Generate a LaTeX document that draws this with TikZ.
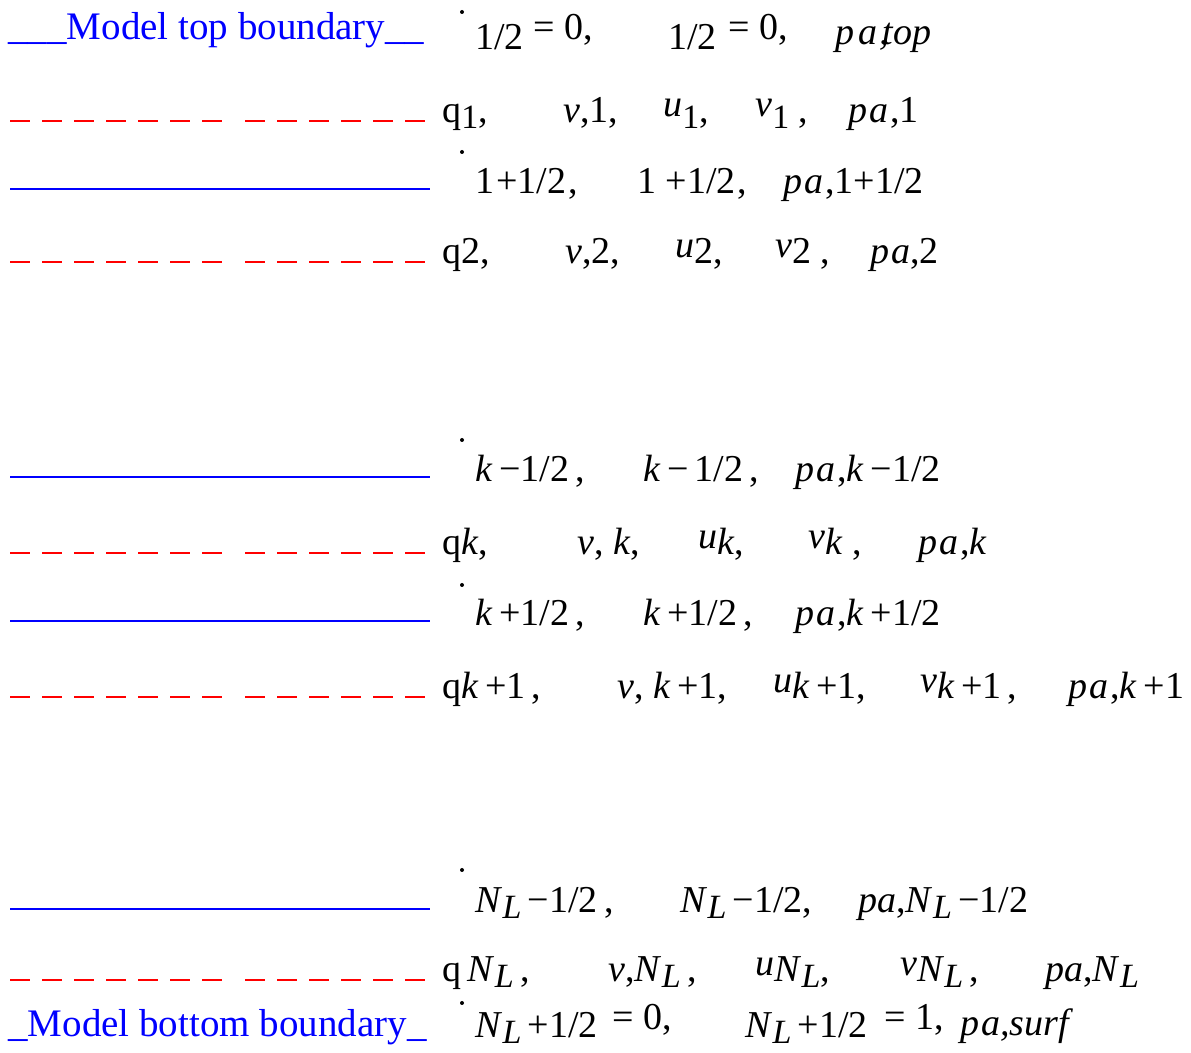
\documentclass[tikz,border=0pt]{standalone}
\usepackage{fontspec}
\setmainfont{Liberation Serif}
\usepackage{xcolor}
\usepackage{tikz}
\usetikzlibrary{positioning}
\definecolor{lvblue}{RGB}{0,0,255}
\definecolor{lvred}{RGB}{255,0,0}
\newcommand{\lo}[1]{\raisebox{-0.3ex}{\fontsize{17}{17}\selectfont #1}}
\newcommand{\up}[1]{\raisebox{0.35ex}{\textit{#1}}}
\newcommand{\nl}{\textit{N}\lo{\textit{L}}}
\newcommand{\pa}{\textit{p\kern1pt a}}

\begin{document}
\begin{tikzpicture}[x=0.5pt,y=-0.5pt,
    eqtext/.style={anchor=base west,inner sep=0pt,font=\fontsize{19}{21}\selectfont},
    bndtext/.style={anchor=base west,inner sep=0pt,text=lvblue,font=\fontsize{19.5}{22}\selectfont},
    halflev/.style={draw=lvblue,line width=1.3pt},
    fulllev/.style={draw=lvred,line width=1.3pt,dash pattern=on 10pt off 6pt},
    dotmark/.style={circle,fill=black,inner sep=0pt,minimum size=2pt}]
\useasboundingbox (0,0) rectangle (1191,1053);

% level lines
\foreach \y in {189,477,621,909}
    \draw[halflev] (10,\y) -- (430,\y);
\foreach \y in {121,262,553,697,980}{
    \draw[fulllev] (10,\y) -- (222,\y);
    \draw[fulllev] (245,\y) -- (426,\y);
}

% boundaries
\node[bndtext] (topbnd) at (8,40) {\_\_\_Model top boundary\_\_};
\node[bndtext] (botbnd) at (8,1037) {\_Model bottom boundary\_};

% dots of the half levels
\foreach \y [count=\i] in {12,152,440,585,870,1003}
    \node[dotmark] (dot\i) at (462,\y) {};

% top
\node[eqtext] (a1) at (475,50) {1/2};
\node[eqtext] (a2) at (533,40) {= 0,};
\node[eqtext] (a3) at (668,50) {1/2};
\node[eqtext] (a4) at (728,40) {= 0,};
\node[eqtext] (a5) at (835,45) {\textit{p\kern2pt a\kern1pt,\kern-3pt top}};

% level 1
\node[eqtext] (b1) at (442,123) {q\lo{1},};
\node[eqtext] (b2) at (563,123) {\textit{v},1,};
\node[eqtext] (b3) at (663,123) {\up{u}\lo{1},};
\node[eqtext] (b4) at (755,123) {\up{v}\lo{1} ,};
\node[eqtext] (b5) at (848,123) {\pa\kern1pt,1};

% level 1+1/2
\node[eqtext] (c1) at (475,194) {1\kern1pt+1/2\kern1pt,};
\node[eqtext] (c2) at (637,194) {1 +1/2\kern1pt,};
\node[eqtext] (c3) at (783,194) {\pa\kern1pt,1+1/2};

% level 2
\node[eqtext] (d1) at (442,264) {q2,};
\node[eqtext] (d2) at (565,264) {\textit{v},2,};
\node[eqtext] (d3) at (675,264) {\up{u}2,};
\node[eqtext] (d4) at (775,264) {\up{v}2 ,};
\node[eqtext] (d5) at (870,264) {\pa,2};

% level k-1/2
\node[eqtext] (e1) at (475,482) {\textit{k}\,−1/2\,,};
\node[eqtext] (e2) at (643,482) {\textit{k}\,−\,1/2\,,};
\node[eqtext] (e3) at (795,482) {\pa\kern1pt,\textit{k}\,−1/2};

% level k
\node[eqtext] (f1) at (442,555) {q\textit{k},};
\node[eqtext] (f2) at (577,555) {\textit{v}, \textit{k},};
\node[eqtext] (f3) at (698,555) {\up{u}\textit{k},};
\node[eqtext] (f4) at (808,555) {\up{v}\textit{k} ,};
\node[eqtext] (f5) at (918,555) {\pa\kern1pt,\textit{k}};

% level k+1/2
\node[eqtext] (g1) at (475,626) {\textit{k}\,+1/2\,,};
\node[eqtext] (g2) at (643,626) {\textit{k}\,+1/2\,,};
\node[eqtext] (g3) at (795,626) {\pa\kern1pt,\textit{k}\,+1/2};

% level k+1
\node[eqtext] (h1) at (442,699) {q\textit{k}\,+1\,,};
\node[eqtext] (h2) at (617,699) {\textit{v}, \textit{k}\,+1,};
\node[eqtext] (h3) at (773,699) {\up{u}\textit{k}\,+1,};
\node[eqtext] (h4) at (920,699) {\up{v}\textit{k}\,+1\,,};
\node[eqtext] (h5) at (1068,699) {\pa\kern1pt,\textit{k}\,+1};

% level NL-1/2
\node[eqtext] (i1) at (475,913) {\nl\,−1/2\,,};
\node[eqtext] (i2) at (680,913) {\nl\,−1/2,};
\node[eqtext] (i3) at (858,913) {\textit{pa},\nl\,−1/2};

% level NL
\node[eqtext] (j1) at (442,982) {q\,\nl\,,};
\node[eqtext] (j2) at (608,982) {\textit{v},\nl\,,};
\node[eqtext] (j3) at (755,982) {\up{u}\nl,};
\node[eqtext] (j4) at (900,982) {\up{v}\nl\,,};
\node[eqtext] (j5) at (1045,982) {\textit{pa},\nl};

% bottom
\node[eqtext] (k1) at (475,1038) {\nl\,+1/2};
\node[eqtext] (k2) at (612,1030) {= 0,};
\node[eqtext] (k3) at (745,1038) {\nl\,+1/2};
\node[eqtext] (k4) at (884,1030) {= 1,};
\node[eqtext] (k5) at (960,1036) {\textit{p\kern1pt a,surf}};
\end{tikzpicture}
\end{document}
